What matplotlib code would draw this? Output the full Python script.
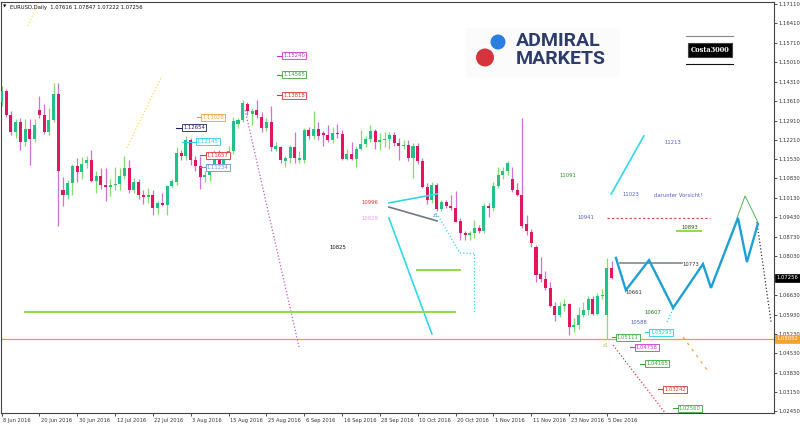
import matplotlib
matplotlib.use('Agg')
import matplotlib.pyplot as plt
import matplotlib.transforms as mtransforms
from matplotlib.patches import Rectangle, Ellipse

# ---------------- data (EURUSD daily, 8 Jun 2016 - 6 Dec 2016) ----------------
opens = [1.1357,1.1397,1.1312,1.1252,1.1287,1.1214,1.1262,1.1224,1.1330,1.1312,
         1.1250,1.1295,1.1386,1.1040,1.1022,1.1068,1.1126,1.1105,1.1137,1.1150,
         1.1075,1.1093,1.1058,1.1051,1.1058,1.1062,1.1092,1.1120,1.1040,1.1070,
         1.1022,1.1015,1.1025,1.0975,1.0995,1.0988,1.1055,1.1072,1.1175,1.1162,
         1.1222,1.1150,1.1128,1.1087,1.1095,1.1115,1.1177,1.1136,1.1160,1.1180,
         1.1280,1.1295,1.1350,1.1315,1.1330,1.1305,1.1264,1.1287,1.1188,1.1195,
         1.1145,1.1157,1.1195,1.1150,1.1150,1.1257,1.1235,1.1262,1.1245,1.1240,
         1.1220,1.1248,1.1242,1.1154,1.1170,1.1154,1.1189,1.1208,1.1226,1.1253,
         1.1214,1.1220,1.1225,1.1240,1.1210,1.1200,1.1205,1.1155,1.1200,1.1145,
         1.1053,1.1005,1.1058,1.0973,1.0998,1.0982,1.0975,1.0928,1.0885,1.0878,
         1.0885,1.0905,1.0893,1.0985,1.0977,1.1055,1.1095,1.1110,1.1080,1.1042,
         1.1025,1.0920,1.0890,1.0835,1.0740,1.0720,1.0690,1.0625,1.0590,1.0625,
         1.0630,1.0550,1.0555,1.0590,1.0610,1.0650,1.0595,1.0660,1.0590,1.07616]
highs = [1.1416,1.1405,1.1325,1.1298,1.1299,1.1298,1.1296,1.1298,1.1380,1.1350,
         1.1338,1.1427,1.1425,1.1090,1.1078,1.1135,1.1155,1.1160,1.1165,1.1185,
         1.1110,1.1120,1.1120,1.1080,1.1125,1.1120,1.1165,1.1150,1.1085,1.1080,
         1.1040,1.1050,1.1040,1.1000,1.1030,1.1060,1.1080,1.1195,1.1185,1.1235,
         1.1230,1.1165,1.1165,1.1110,1.1135,1.1185,1.1185,1.1165,1.1200,1.1305,
         1.1302,1.1366,1.1360,1.1335,1.1366,1.1322,1.1300,1.1342,1.1215,1.1200,
         1.1165,1.1205,1.1250,1.1180,1.1265,1.1270,1.1327,1.1285,1.1255,1.1275,
         1.1268,1.1280,1.1258,1.1188,1.1215,1.1200,1.1257,1.1235,1.1275,1.1260,
         1.1245,1.1250,1.1250,1.1250,1.1230,1.1220,1.1220,1.1210,1.1210,1.1155,
         1.1065,1.1070,1.1065,1.1005,1.1005,1.1025,1.1039,1.0940,1.0895,1.0895,
         1.0935,1.0915,1.0995,1.0995,1.1070,1.1125,1.1125,1.1145,1.1125,1.1065,
         1.1299,1.0950,1.0900,1.0845,1.0800,1.0750,1.0710,1.0640,1.0640,1.0650,
         1.0635,1.0580,1.0620,1.0640,1.0660,1.0660,1.0670,1.0685,1.0796,1.07847]
lows  = [1.1345,1.1305,1.1240,1.1230,1.1187,1.1200,1.1131,1.1215,1.1300,1.1242,
         1.1240,1.1285,1.0912,1.0985,1.1010,1.1025,1.1072,1.1080,1.1120,1.1070,
         1.1030,1.1045,1.1000,1.1020,1.1040,1.1040,1.1080,1.1030,1.1030,1.1010,
         1.0990,1.0995,1.0950,1.0955,1.0985,1.0952,1.1050,1.1060,1.1150,1.1150,
         1.1130,1.1110,1.1045,1.1070,1.1075,1.1110,1.1130,1.1135,1.1150,1.1170,
         1.1265,1.1285,1.1310,1.1275,1.1300,1.1250,1.1255,1.1180,1.1180,1.1140,
         1.1125,1.1140,1.1140,1.1140,1.1140,1.1225,1.1225,1.1222,1.1200,1.1215,
         1.1210,1.1230,1.1150,1.1150,1.1150,1.1125,1.1185,1.1195,1.1215,1.1190,
         1.1185,1.1195,1.1190,1.1200,1.1150,1.1190,1.1145,1.1085,1.1135,1.1048,
         1.0990,1.0995,1.0965,1.0965,1.0975,1.0968,1.0925,1.0860,1.0860,1.0860,
         1.0870,1.0885,1.0885,1.0945,1.0965,1.1050,1.1080,1.1095,1.1035,1.1020,
         1.0905,1.0880,1.0835,1.0710,1.0710,1.0680,1.0620,1.0570,1.0585,1.0605,
         1.0520,1.0530,1.0540,1.0585,1.0590,1.0590,1.0590,1.0650,1.0505,1.07222]
closes = [1.1397,1.1312,1.1252,1.1287,1.1214,1.1262,1.1224,1.1277,1.1312,1.1250,
          1.1295,1.1386,1.1110,1.1022,1.1068,1.1126,1.1105,1.1135,1.1150,1.1075,
          1.1093,1.1058,1.1051,1.1058,1.1062,1.1092,1.1120,1.1040,1.1070,1.1022,
          1.1015,1.1025,1.0975,1.0995,1.0988,1.1055,1.1072,1.1175,1.1162,1.1222,
          1.1150,1.1128,1.1087,1.1095,1.1115,1.1177,1.1136,1.1160,1.1180,1.1290,
          1.1295,1.1355,1.1325,1.1325,1.1310,1.1264,1.1287,1.1198,1.1200,1.1150,
          1.1157,1.1195,1.1155,1.1158,1.1257,1.1235,1.1262,1.1235,1.1240,1.1220,
          1.1248,1.1242,1.1154,1.1170,1.1154,1.1189,1.1208,1.1226,1.1253,1.1214,
          1.1220,1.1225,1.1240,1.1210,1.1200,1.1205,1.1155,1.1200,1.1145,1.1053,
          1.1005,1.1058,1.0973,1.0998,1.0982,1.0975,1.0928,1.0885,1.0878,1.0885,
          1.0905,1.0893,1.0985,1.0977,1.1055,1.1095,1.1110,1.1140,1.1042,1.1025,
          1.0913,1.0895,1.0850,1.0735,1.0720,1.0690,1.0625,1.0590,1.0625,1.0630,
          1.0550,1.0555,1.0590,1.0610,1.0650,1.0595,1.0660,1.0665,1.0762,1.07256]

date_labels = ["8 Jun 2016","20 Jun 2016","30 Jun 2016","12 Jul 2016","22 Jul 2016",
               "3 Aug 2016","15 Aug 2016","25 Aug 2016","6 Sep 2016","16 Sep 2016",
               "28 Sep 2016","10 Oct 2016","20 Oct 2016","1 Nov 2016","11 Nov 2016",
               "23 Nov 2016","5 Dec 2016"]
date_label_bars = list(range(0, 129, 8))

price_ticks = [1.17110,1.16410,1.15710,1.15010,1.14310,1.13610,1.12910,1.12210,
               1.11530,1.10830,1.10130,1.09430,1.08730,1.08030,1.06630,1.05930,
               1.05230,1.04530,1.03830,1.03150,1.02450]
last_price = 1.07256
orange_level = 1.05052
header = "EURUSD,Daily  1.07616 1.07847 1.07222 1.07256"

# price label boxes: (text, price, tick start bar, box left bar, colour)
price_boxes = [
    ("1.15240", 1.15240, 58.2, 59.5, "#cc33cc"),
    ("1.14565", 1.14565, 58.2, 59.5, "#33aa33"),
    ("1.13818", 1.13818, 58.2, 59.5, "#dd3333"),
    ("1.13028", 1.13028, 41.3, 42.4, "#f0a030"),
    ("1.12654", 1.12654, 36.9, 38.4, "#202060"),
    ("1.12145", 1.12145, 38.2, 41.3, "#22d0e0"),
    ("1.11657", 1.11657, 42.0, 43.4, "#dd3333"),
    ("1.11234", 1.11234, 42.0, 43.4, "#6a8fd8"),
    ("1.05293", 1.05293, 136.0, 137.1, "#22d0e0"),
    ("1.05111", 1.05111, 129.1, 130.1, "#33aa33"),
    ("1.04758", 1.04758, 132.9, 134.1, "#cc33cc"),
    ("1.04165", 1.04165, 135.0, 136.3, "#33aa33"),
    ("1.03242", 1.03242, 138.8, 140.1, "#dd3333"),
    ("1.02560", 1.02560, 142.0, 143.2, "#33aa33"),
]

# analyst text labels: (text, bar, price, colour)
notes = [
    ("10996", 77.9, 1.0995, "#e03030"),
    ("10929", 77.9, 1.0937, "#e0a0e0"),
    ("10825", 71.1, 1.0836, "#111111"),
    ("z1", 91.9, 1.0948, "#6080d0"),
    ("11091", 119.8, 1.1092, "#2a8a2a"),
    ("11213", 142.0, 1.1211, "#5060c0"),
    ("11023", 133.1, 1.1027, "#5060c0"),
    ("darunter Vorsicht!", 143.0, 1.1023, "#5060c0"),
    ("10941", 123.6, 1.0944, "#5060c0"),
    ("10893", 145.6, 1.0908, "#225522"),
    ("10773", 145.8, 1.0775, "#333333"),
    ("10661", 133.7, 1.0671, "#333333"),
    ("10607", 137.7, 1.0602, "#207020"),
    ("10588", 134.8, 1.0563, "#5060c0"),
    ("z1", 127.8, 1.0480, "#a0d060"),
]

# analyst lines: (bars, prices, colour, linestyle, width)
trend_lines = [
    ([26.5, 33.8], [1.1193, 1.1448], "#f0e060", ":", 0.9),
    ([5.6, 7.6], [1.1632, 1.1711], "#f0e060", ":", 0.9),
    ([51.5, 62.9], [1.1329, 1.0476], "#cc55cc", ":", 0.9),
    ([81.9, 92.1], [1.0995, 1.1027], "#30d8e8", "-", 1.2),
    ([81.9, 92.1], [1.0980, 1.0930], "#707888", "-", 1.2),
    ([81.9, 91.0], [1.0941, 1.0523], "#30d8e8", "-", 1.2),
    ([92.3, 96.9], [1.0948, 1.0815], "#30d8e8", ":", 0.9),
    ([96.9, 99.9], [1.0815, 1.0812], "#30d8e8", ":", 0.9),
    ([99.9, 99.9], [1.0812, 1.0602], "#30d8e8", ":", 0.9),
    ([87.8, 96.9], [1.0753, 1.0753], "#90dc40", "-", 1.4),
    ([5.0, 95.9], [1.0602, 1.0602], "#90dc40", "-", 1.4),
    ([128.0, 149.8], [1.0941, 1.0941], "#e04040", (0, (2, 2)), 0.8),
    ([142.8, 147.9], [1.0893, 1.0893], "#90dc40", "-", 1.4),
    ([128.9, 135.8], [1.1027, 1.1236], "#30d8e8", "-", 1.2),
    ([155.5, 157.2, 159.9], [1.0941, 1.1020, 1.0926], "#55b055", "-", 0.7),
    ([130.8, 143.9], [1.0777, 1.0777], "#808890", "-", 1.2),
    ([142.0, 140.7], [1.0613, 1.0566], "#30d8e8", ":", 0.9),
    ([129.3, 140.3], [1.0483, 1.0239], "#e04040", ":", 0.9),
    ([144.1, 149.2], [1.0512, 1.0393], "#f0a040", (0, (2, 4)), 0.9),
    ([159.7, 162.7], [1.0926, 1.0566], "#333333", ":", 0.9),
]
zigzag_bars = [129.9, 132.0, 136.9, 142.0, 148.3, 150.0, 155.7, 157.6, 159.9]
zigzag_prices = [1.0797, 1.0681, 1.0789, 1.0617, 1.0775, 1.0689, 1.0941, 1.0782, 1.0919]

# ---------------- layout ----------------
W, H = 800, 426
fig = plt.figure(figsize=(8, 4.26), dpi=100)
fig.patch.set_facecolor("white")
L, R, T, B = 1.0, 774.0, 1.5, 413.0
ax = fig.add_axes([L / W, 1 - B / H, (R - L) / W, (B - T) / H])

bar0_px, bar_px = 1.5, 4.73
price_top_px, price_top, price_per_px = 4.0, 1.17110, 0.00036
ax.set_xlim((L - bar0_px) / bar_px, (R - bar0_px) / bar_px)
ax.set_ylim(price_top - (B - price_top_px) * price_per_px,
            price_top + (price_top_px - T) * price_per_px)

FONT = "DejaVu Sans"
fs = 3.8

# candles
bull_body, bull_wick = "#22c08a", "#80de6a"
bear_body, bear_wick = "#e3165b", "#d070dc"
for i, (o, h, l, c) in enumerate(zip(opens, highs, lows, closes)):
    up = c >= o
    ax.plot([i, i], [l, h], color=bull_wick if up else bear_wick, lw=0.9,
            solid_capstyle="butt", zorder=2)
    lo, hi = min(o, c), max(o, c)
    hgt = max(hi - lo, 0.00025)
    ax.add_patch(Rectangle((i - 0.32, lo), 0.64, hgt, facecolor=bull_body if up else bear_body,
                           edgecolor="none", zorder=3))

# lines
ax.axhline(orange_level, color="#f0a030", lw=0.9, zorder=1)
for xs, ys, col, ls, lw in trend_lines:
    ax.plot(xs, ys, color=col, ls=ls, lw=lw, zorder=4)
ax.plot(zigzag_bars, zigzag_prices, color="#1e9fd6", lw=1.7, zorder=5,
        solid_joinstyle="miter")

# price boxes
for txt, p, x0, x1, col in price_boxes:
    ax.plot([x0, x1], [p, p], color=col, lw=0.8, zorder=5)
    ax.text(x1, p, txt, fontsize=fs, family=FONT, color=col, va="center", ha="left",
            zorder=6, bbox=dict(boxstyle="square,pad=0.2", fc="white", ec=col, lw=0.6))

for txt, x, p, col in notes:
    ax.text(x, p, txt, fontsize=fs, family=FONT, color=col, va="center", ha="center", zorder=6)

# axes styling
for s in ax.spines.values():
    s.set_color("#444444")
    s.set_linewidth(0.8)
ax.yaxis.tick_right()
ax.set_yticks(price_ticks)
ax.set_yticklabels([f"{v:.5f}" for v in price_ticks])
ax.tick_params(axis="y", direction="out", length=2.2, width=0.6, pad=1,
               labelsize=fs, colors="#333333")
ax.set_xticks(date_label_bars)
ax.set_xticklabels(date_labels, ha="left")
ax.tick_params(axis="x", direction="out", length=2.5, width=0.6, pad=1,
               labelsize=fs - 0.1, colors="#333333")
off = mtransforms.ScaledTranslation(1.5 / 100, 0, fig.dpi_scale_trans)
for lab in ax.get_xticklabels():
    lab.set_transform(lab.get_transform() + off)
    lab.set_family(FONT)
for lab in ax.get_yticklabels():
    lab.set_family(FONT)

ytr = mtransforms.blended_transform_factory(ax.transAxes, ax.transData)
ax.text(1.003, last_price, "1.07256", transform=ytr, fontsize=fs, family=FONT,
        color="white", va="center", ha="left", zorder=7, clip_on=False,
        bbox=dict(boxstyle="square,pad=0.25", fc="black", ec="black", lw=0.5))
ax.text(1.003, orange_level, "1.05052", transform=ytr, fontsize=fs, family=FONT,
        color="white", va="center", ha="left", zorder=7, clip_on=False,
        bbox=dict(boxstyle="square,pad=0.25", fc="#f5a030", ec="#f5a030", lw=0.5))

# header
fig.text(3 / W, 1 - 7 / H, "\u25bc", fontsize=3.2, family=FONT, color="#111111", va="center")
fig.text(10 / W, 1 - 7 / H, header, fontsize=fs, family=FONT, color="#111111", va="center")

# logo
fig.patches.append(Rectangle((466 / W, 1 - 77 / H), 154 / W, 49 / H, transform=fig.transFigure,
                             fc="#fbfbfb", ec="none", zorder=8))
fig.patches.append(Ellipse((498 / W, 1 - 42 / H), 15 / W, 15 / H, transform=fig.transFigure,
                           fc="#2a7de1", ec="none", zorder=9))
fig.patches.append(Ellipse((485 / W, 1 - 57.5 / H), 18 / W, 18 / H, transform=fig.transFigure,
                           fc="#d6343c", ec="none", zorder=9))
fig.text(516 / W, 1 - 41.5 / H, "ADMIRAL", fontsize=14, family="Roboto", weight="bold",
         color="#2d3c6b", va="center", ha="left", zorder=10)
fig.text(516 / W, 1 - 59 / H, "MARKETS", fontsize=14, family="Roboto", weight="bold",
         color="#2d3c6b", va="center", ha="left", zorder=10)

# Costa3000 tag
fig.add_artist(plt.Line2D([686 / W, 733 / W], [1 - 36 / H, 1 - 36 / H], color="#888888", lw=0.8))
fig.add_artist(plt.Line2D([686 / W, 733 / W], [1 - 64 / H, 1 - 64 / H], color="#111111", lw=0.8))
fig.text(710 / W, 1 - 50 / H, "Costa3000", fontsize=4.8, family="DejaVu Serif", weight="bold",
         color="white", va="center", ha="center",
         bbox=dict(boxstyle="square,pad=0.45", fc="black", ec="#444444", lw=0.8))

fig.savefig("out.png", dpi=100)
